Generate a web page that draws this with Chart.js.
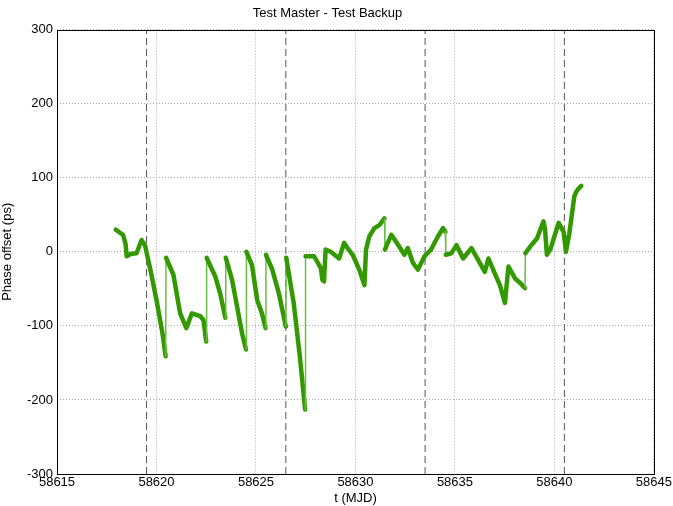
<!DOCTYPE html>
<html>
<head>
<meta charset="utf-8">
<script src="https://cdn.jsdelivr.net/npm/chart.js@4"></script>
<style>
  html,body{margin:0;padding:0;background:#fff;}
  #wrap{width:673px;height:506px;}
</style>
</head>
<body>
<div id="wrap"><canvas id="c" width="673" height="506"></canvas></div>
<script>
// MJD time of each sample
var tMJD = [
  58617.95,58618.10,58618.32,58618.45,58618.50,58618.70,58619.00,58619.25,58619.42,58619.70,
  58620.00,58620.30,58620.46,58620.48,58620.85,58621.19,58621.50,58621.78,58622.20,58622.36,
  58622.50,58622.52,58622.95,58623.20,58623.46,58623.48,58623.80,58624.05,58624.30,58624.50,
  58624.52,58624.80,58625.06,58625.30,58625.48,58625.50,58625.82,58626.15,58626.50,58626.52,
  58626.90,58627.20,58627.47,58627.49,58627.92,58628.26,58628.34,58628.42,58628.50,58628.76,
  58629.18,58629.43,58629.60,58629.86,58630.19,58630.45,58630.53,58630.70,58630.95,58631.20,
  58631.46,58631.48,58631.80,58632.20,58632.46,58632.63,58632.89,58633.14,58633.47,58633.80,
  58634.15,58634.40,58634.52,58634.54,58634.82,58635.08,58635.41,58635.83,58636.25,58636.50,
  58636.68,58637.00,58637.26,58637.51,58637.69,58638.02,58638.27,58638.52,58638.54,58638.78,
  58639.12,58639.45,58639.53,58639.62,58639.79,58640.21,58640.46,58640.58,58640.75,58641.00,
  58641.10,58641.20,58641.35
];
// phase offset (ps)
var phasePs = [
  30,27,23,10,-6,-3,-2,16,9,-25,
  -65,-110,-141,-8,-31,-83,-103,-83,-87,-92,
  -121,-8,-33,-56,-89,-8,-38,-74,-110,-132,
  0,-18,-65,-83,-103,-4,-24,-56,-101,-8,
  -70,-140,-213,-6,-6,-22,-38,-40,3,0,
  -9,12,5,-4,-24,-45,3,21,32,36,
  45,3,23,7,-4,5,-15,-24,-6,3,
  21,32,27,-4,-2,9,-9,5,-15,-27,
  -9,-29,-45,-69,-20,-36,-42,-49,-2,7,
  18,41,30,-4,3,39,27,0,25,75,
  81,85,89
];
// dashed event markers (MJD)
var eventT = [58619.5, 58626.5, 58633.5, 58640.5];
var xTicks = [58615,58620,58625,58630,58635,58640,58645];
var yTicks = [-300,-200,-100,0,100,200,300];

var FONT = 'Liberation Sans, Arial, sans-serif';
var pts = tMJD.map(function(t,i){ return {x:t, y:phasePs[i]}; });

// near-vertical resets are drawn thin, like the sparse samples in the original
function isJump(ctx){ return (ctx.p1.parsed.x - ctx.p0.parsed.x) < 0.03; }

var datasets = [{
  data: pts, showLine: true, borderColor: '#339900', backgroundColor: '#339900',
  borderWidth: 4.5, borderJoinStyle: 'round', borderCapStyle: 'round',
  pointRadius: 0, pointHoverRadius: 0, tension: 0,
  segment: {
    borderWidth: function(ctx){ return isJump(ctx) ? 1.5 : 4.5; },
    borderColor: function(ctx){ return isJump(ctx) ? '#6cbb44' : '#339900'; }
  },
  order: 1
}];
eventT.forEach(function(t){
  datasets.push({
    data: [{x:t, y:yTicks[0]}, {x:t, y:yTicks[yTicks.length-1]}],
    showLine: true, borderColor: '#555', borderWidth: 1, borderDash: [7,4],
    pointRadius: 0, order: 2
  });
});

var frame = {
  id: 'frame',
  afterDraw: function(chart){
    var a = chart.chartArea, ctx = chart.ctx;
    ctx.save(); ctx.strokeStyle = '#000'; ctx.lineWidth = 1;
    ctx.strokeRect(Math.round(a.left)+0.5, Math.round(a.top)+0.5, Math.round(a.right-a.left), Math.round(a.bottom-a.top));
    ctx.restore();
  }
};

new Chart(document.getElementById('c'), {
  type: 'scatter',
  data: { datasets: datasets },
  plugins: [frame],
  options: {
    responsive: false, animation: false,
    layout: { padding: { top: 0, right: 18, left: 0, bottom: 0 } },
    plugins: {
      legend: { display: false }, tooltip: { enabled: false },
      title: { display: true, text: 'Test Master - Test Backup', color: '#000',
               font: { family: FONT, size: 13, weight: 'normal' }, padding: { top: 6, bottom: 8 } }
    },
    scales: {
      x: {
        type: 'linear', min: xTicks[0], max: xTicks[xTicks.length-1],
        afterBuildTicks: function(s){ s.ticks = xTicks.map(function(v){ return {value:v}; }); },
        afterFit: function(s){ s.height = 32; },
        grid: { color: '#aaa', lineWidth: 1, drawTicks: false },
        border: { display: false, dash: [1,2] },
        ticks: { color: '#000', padding: 1, maxRotation: 0, font: { family: FONT, size: 13 },
                 callback: function(v){ return String(v); } },
        title: { display: true, text: 't (MJD)', color: '#000', padding: { top: 0, bottom: 0 },
                 font: { family: FONT, size: 13 } }
      },
      y: {
        type: 'linear', min: yTicks[0], max: yTicks[yTicks.length-1],
        afterBuildTicks: function(s){ s.ticks = yTicks.map(function(v){ return {value:v}; }); },
        afterFit: function(s){ s.width = 57; },
        grid: { color: '#aaa', lineWidth: 1, drawTicks: false },
        border: { display: false, dash: [1,2] },
        ticks: { color: '#000', padding: 4, font: { family: FONT, size: 13 } },
        title: { display: true, text: 'Phase offset (ps)', color: '#000', padding: { top: 0, bottom: 2 },
                 font: { family: FONT, size: 13 } }
      }
    }
  }
});
</script>
</body>
</html>
